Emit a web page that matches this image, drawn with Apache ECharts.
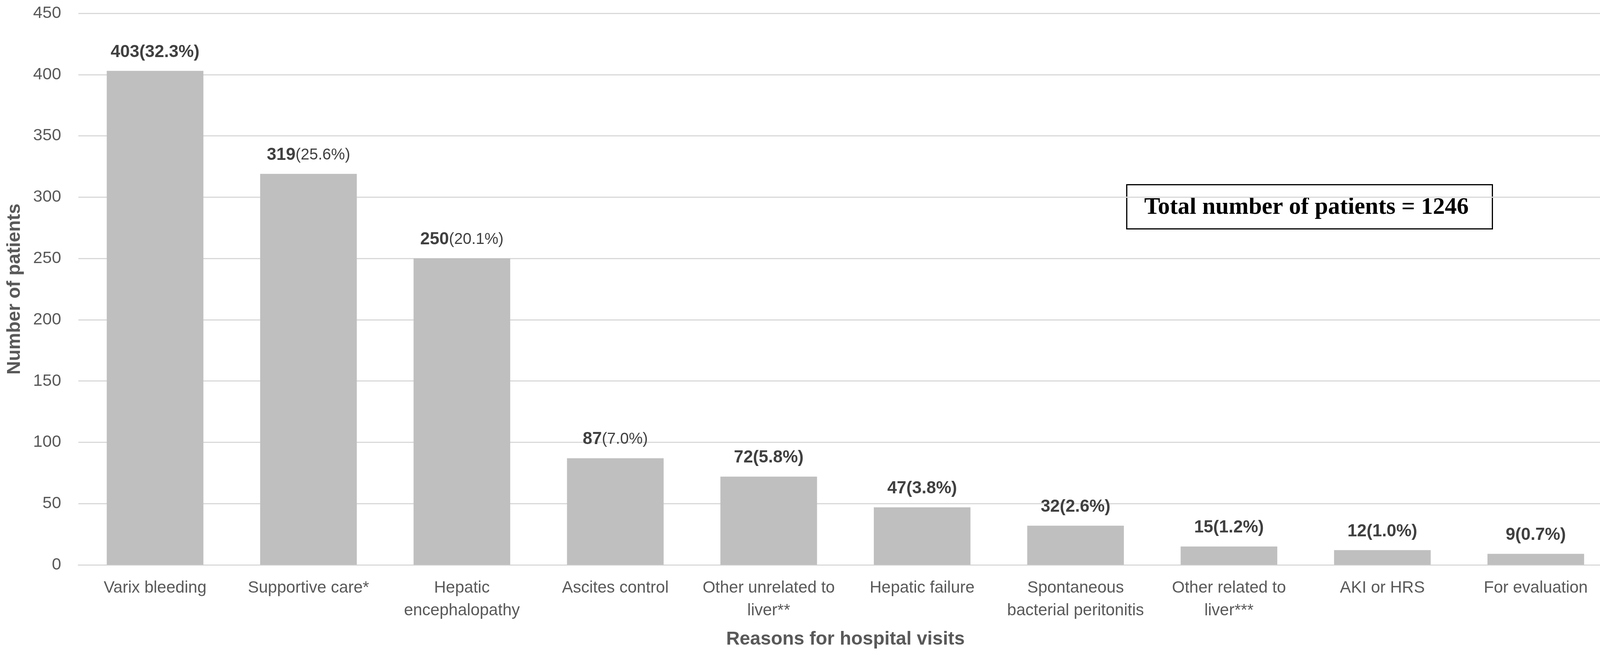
<!DOCTYPE html>
<html>
<head>
<meta charset="utf-8">
<title>Reasons for hospital visits</title>
<script src="https://cdn.jsdelivr.net/npm/echarts@6/dist/echarts.min.js"></script>
<style>
  html, body { margin: 0; padding: 0; background: #fff; }
  #main { width: 4160px; height: 1673px; }
</style>
</head>
<body>
<div id="main"></div>
<script>
// categories and values
const reasons = [
    'Varix bleeding',
    'Supportive care*',
    'Hepatic\nencephalopathy',
    'Ascites control',
    'Other unrelated to\nliver**',
    'Hepatic failure',
    'Spontaneous\nbacterial peritonitis',
    'Other related to\nliver***',
    'AKI or HRS',
    'For evaluation'
];
const patients = [403, 319, 250, 87, 72, 47, 32, 15, 12, 9];
const percents = ['32.3', '25.6', '20.1', '7.0', '5.8', '3.8', '2.6', '1.2', '1.0', '0.7'];
const yTicks = [0, 50, 100, 150, 200, 250, 300, 350, 400, 450];
const totalPatients = 1246;

// these labels have a lighter percentage part in the original
const lightPercent = [1, 2, 3];

const chart = echarts.init(document.getElementById('main'));

const option = {
    backgroundColor: '#ffffff',
    animation: false,
    textStyle: { fontFamily: 'Liberation Sans, Arial, sans-serif' },
    grid: { left: 200.6, right: 32, top: 34, bottom: 228, containLabel: false },
    xAxis: {
        type: 'category',
        data: reasons,
        name: 'Reasons for hospital visits',
        nameLocation: 'middle',
        nameGap: 167,
        nameTextStyle: { fontSize: 48, fontWeight: 'bold', color: '#595959' },
        axisLine: { show: true, lineStyle: { color: '#d9d9d9', width: 3 } },
        axisTick: { show: false },
        axisLabel: {
            interval: 0,
            fontSize: 42,
            lineHeight: 58,
            margin: 30,
            color: '#595959'
        }
    },
    yAxis: {
        type: 'value',
        min: yTicks[0],
        max: yTicks[yTicks.length - 1],
        interval: 50,
        name: 'Number of patients',
        nameLocation: 'middle',
        nameGap: 139,
        nameTextStyle: { fontSize: 48, fontWeight: 'bold', color: '#595959' },
        axisLine: { show: false },
        axisTick: { show: false },
        axisLabel: { fontSize: 43, margin: 44, color: '#595959' },
        splitLine: { lineStyle: { color: '#d9d9d9', width: 3 } }
    },
    series: [{
        type: 'bar',
        data: patients,
        barCategoryGap: '37%',
        itemStyle: { color: '#bfbfbf' },
        label: {
            show: true,
            position: 'top',
            distance: 26,
            formatter: function (p) {
                const pct = '(' + percents[p.dataIndex] + '%)';
                if (lightPercent.indexOf(p.dataIndex) >= 0) {
                    return '{n|' + p.value + '}{p|' + pct + '}';
                }
                return '{n|' + p.value + '}{b|' + pct + '}';
            },
            rich: {
                n: { fontSize: 44, fontWeight: 'bold', color: '#404040' },
                b: { fontSize: 44, fontWeight: 'bold', color: '#404040' },
                p: { fontSize: 40, fontWeight: 'normal', color: '#404040' }
            }
        }
    }],
    graphic: [{
        type: 'group',
        left: 2883,
        top: 471,
        z: 100,
        children: [{
            type: 'rect',
            shape: { x: 0, y: 0, width: 936, height: 113 },
            style: { fill: '#ffffff', stroke: '#000000', lineWidth: 3 }
        }, {
            type: 'text',
            x: 460,
            y: 59,
            style: {
                text: 'Total number of patients = ' + totalPatients,
                font: 'bold 61px "Liberation Serif", "Times New Roman", serif',
                fill: '#000000',
                align: 'center',
                verticalAlign: 'middle'
            }
        }]
    }]
};

chart.setOption(option);
</script>
</body>
</html>
